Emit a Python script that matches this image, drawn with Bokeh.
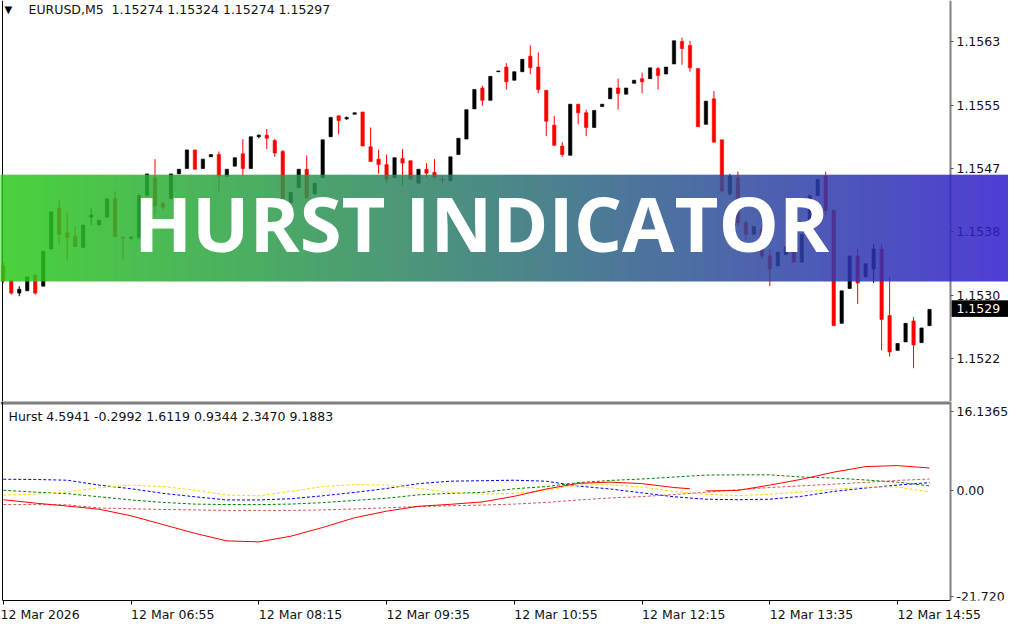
import numpy as np
from bokeh.plotting import figure
from bokeh.models import Range1d, LinearAxis, FixedTicker, Label, Span, ColumnDataSource
from bokeh.layouts import column
from bokeh.embed import file_html
from bokeh.resources import INLINE

# ---------------- data (EURUSD M5, 12 Mar 2026, bars from 05:35) ----------------
opens = [1.15345, 1.15326, 1.15310, 1.15313, 1.15333, 1.15319, 1.15367, 1.15420, 1.15388, 1.15383,
         1.15369, 1.15408, 1.15398, 1.15408, 1.15432, 1.15382, 1.15381, 1.15382, 1.15436, 1.15459,
         1.15426, 1.15432, 1.15464, 1.15471, 1.15495, 1.15471, 1.15486, 1.15489, 1.15461, 1.15474,
         1.15490, 1.15471, 1.15512, 1.15514, 1.15507, 1.15493, 1.15427, 1.15446, 1.15470, 1.15438,
         1.15459, 1.15512, 1.15539, 1.15535, 1.15541, 1.15544, 1.15499, 1.15483, 1.15476, 1.15459,
         1.15484, 1.15481, 1.15452, 1.15470, 1.15466, 1.15457, 1.15455, 1.15489, 1.15509, 1.15548,
         1.15575, 1.15559, 1.15596, 1.15602, 1.15585, 1.15596, 1.15616, 1.15602, 1.15572, 1.15527,
         1.15500, 1.15488, 1.15554, 1.15543, 1.15524, 1.15551, 1.15561, 1.15575, 1.15567, 1.15581,
         1.15587, 1.15587, 1.15600, 1.15593, 1.15606, 1.15635, 1.15630, 1.15600, 1.15528, 1.15561,
         1.15508, 1.15438, 1.15459, 1.15401, 1.15386, 1.15392, 1.15358, 1.15345, 1.15360, 1.15370,
         1.15350, 1.15386, 1.15436, 1.15461, 1.15417, 1.15271, 1.15316, 1.15358, 1.15331, 1.15341,
         1.15367, 1.15281, 1.15236, 1.15247, 1.15274, 1.15246, 1.15268]
highs = [1.15350, 1.15326, 1.15319, 1.15331, 1.15335, 1.15364, 1.15415, 1.15430, 1.15415, 1.15396,
         1.15398, 1.15420, 1.15404, 1.15432, 1.15442, 1.15383, 1.15384, 1.15438, 1.15464, 1.15483,
         1.15428, 1.15464, 1.15470, 1.15495, 1.15495, 1.15483, 1.15489, 1.15493, 1.15470, 1.15485,
         1.15509, 1.15512, 1.15515, 1.15522, 1.15509, 1.15495, 1.15440, 1.15470, 1.15488, 1.15452,
         1.15508, 1.15537, 1.15539, 1.15538, 1.15543, 1.15544, 1.15524, 1.15495, 1.15489, 1.15485,
         1.15496, 1.15481, 1.15470, 1.15478, 1.15483, 1.15461, 1.15486, 1.15510, 1.15547, 1.15573,
         1.15578, 1.15590, 1.15597, 1.15607, 1.15596, 1.15612, 1.15630, 1.15621, 1.15572, 1.15539,
         1.15505, 1.15554, 1.15554, 1.15547, 1.15546, 1.15554, 1.15575, 1.15587, 1.15575, 1.15585,
         1.15595, 1.15601, 1.15602, 1.15602, 1.15636, 1.15640, 1.15636, 1.15600, 1.15558, 1.15571,
         1.15508, 1.15464, 1.15467, 1.15404, 1.15396, 1.15398, 1.15367, 1.15363, 1.15370, 1.15370,
         1.15386, 1.15436, 1.15457, 1.15467, 1.15417, 1.15313, 1.15358, 1.15367, 1.15348, 1.15373,
         1.15373, 1.15331, 1.15245, 1.15271, 1.15279, 1.15265, 1.15289]
lows = [1.15323, 1.15308, 1.15306, 1.15313, 1.15308, 1.15319, 1.15367, 1.15373, 1.15352, 1.15370,
        1.15369, 1.15398, 1.15398, 1.15408, 1.15383, 1.15354, 1.15378, 1.15379, 1.15436, 1.15411,
        1.15418, 1.15432, 1.15464, 1.15471, 1.15470, 1.15471, 1.15486, 1.15440, 1.15461, 1.15474,
        1.15461, 1.15471, 1.15510, 1.15496, 1.15486, 1.15430, 1.15427, 1.15446, 1.15432, 1.15438,
        1.15459, 1.15512, 1.15515, 1.15534, 1.15541, 1.15500, 1.15480, 1.15464, 1.15452, 1.15459,
        1.15449, 1.15457, 1.15452, 1.15459, 1.15457, 1.15452, 1.15455, 1.15489, 1.15509, 1.15548,
        1.15552, 1.15559, 1.15596, 1.15573, 1.15585, 1.15596, 1.15593, 1.15568, 1.15513, 1.15500,
        1.15486, 1.15488, 1.15528, 1.15513, 1.15524, 1.15551, 1.15561, 1.15547, 1.15567, 1.15581,
        1.15568, 1.15587, 1.15573, 1.15593, 1.15606, 1.15605, 1.15596, 1.15525, 1.15528, 1.15505,
        1.15440, 1.15436, 1.15396, 1.15379, 1.15386, 1.15354, 1.15319, 1.15345, 1.15360, 1.15350,
        1.15350, 1.15386, 1.15436, 1.15411, 1.15268, 1.15271, 1.15316, 1.15296, 1.15331, 1.15323,
        1.15236, 1.15228, 1.15236, 1.15247, 1.15213, 1.15246, 1.15268]
closes = [1.15326, 1.15310, 1.15315, 1.15331, 1.15310, 1.15364, 1.15415, 1.15386, 1.15382, 1.15370,
          1.15398, 1.15411, 1.15404, 1.15432, 1.15383, 1.15381, 1.15382, 1.15436, 1.15464, 1.15423,
          1.15421, 1.15464, 1.15470, 1.15495, 1.15470, 1.15483, 1.15489, 1.15461, 1.15470, 1.15485,
          1.15471, 1.15512, 1.15514, 1.15510, 1.15491, 1.15432, 1.15440, 1.15470, 1.15433, 1.15452,
          1.15508, 1.15537, 1.15533, 1.15537, 1.15543, 1.15500, 1.15480, 1.15476, 1.15457, 1.15485,
          1.15478, 1.15457, 1.15470, 1.15465, 1.15460, 1.15456, 1.15486, 1.15510, 1.15547, 1.15573,
          1.15559, 1.15590, 1.15597, 1.15583, 1.15596, 1.15612, 1.15601, 1.15573, 1.15532, 1.15501,
          1.15489, 1.15554, 1.15543, 1.15524, 1.15546, 1.15554, 1.15575, 1.15568, 1.15575, 1.15585,
          1.15583, 1.15601, 1.15591, 1.15602, 1.15636, 1.15626, 1.15601, 1.15525, 1.15558, 1.15505,
          1.15442, 1.15461, 1.15401, 1.15386, 1.15396, 1.15358, 1.15341, 1.15363, 1.15370, 1.15350,
          1.15386, 1.15436, 1.15457, 1.15417, 1.15268, 1.15313, 1.15358, 1.15323, 1.15348, 1.15367,
          1.15276, 1.15234, 1.15245, 1.15271, 1.15243, 1.15265, 1.15289]
bar_index = list(range(len(closes)))

price_ticks = [1.15635, 1.15553, 1.15471, 1.15389, 1.15307, 1.15225]
price_tick_labels = ["1.1563", "1.1555", "1.1547", "1.1538", "1.1530", "1.1522"]
current_price = 1.15290
current_price_label = "1.1529"

time_tick_bars = [0, 16, 32, 48, 64, 80, 96, 112]
time_tick_labels = ["12 Mar 2026", "12 Mar 06:55", "12 Mar 08:15", "12 Mar 09:35",
                    "12 Mar 10:55", "12 Mar 12:15", "12 Mar 13:35", "12 Mar 14:55"]

hurst_bars = list(range(0, 117, 4))
red_bars = [0, 4, 8, 12, 16, 20, 24, 28, 32, 36, 40, 44, 48, 52, 56, 60, 64, 68, 72, 76, 80, 84,
            86, 87, 88, 92, 96, 100, 104, 108, 112, 116]
red_vals = [-1.9, -2.6, -3.2, -3.85, -5.2, -7.0, -8.8, -10.35, -10.55, -9.4, -7.6, -5.6, -4.25,
            -3.25, -2.85, -2.35, -1.2, 0.3, 1.45, 1.7, 1.4, 0.6, 0.35, float("nan"), -0.1, 0.0,
            1.1, 2.3, 3.75, 4.9, 5.1, 4.6]
blue_vals = [2.3, 2.25, 2.1, 1.1, 0.35, -0.6, -1.3, -1.95, -1.95, -1.7, -1.1, -0.4, 0.4, 1.4, 1.9,
             2.0, 2.1, 1.9, 0.9, 0.3, -0.5, -1.3, -1.8, -1.9, -1.8, -1.2, -0.2, 0.5, 1.1, 1.6]
yellow_vals = [-0.95, -0.75, -0.3, 0.55, 1.1, 0.8, 0.05, -0.95, -1.1, -0.2, 0.8, 1.2, 1.1, 0.4, -0.4,
               -0.75, -0.6, 0.1, 1.1, 1.15, 0.7, -0.2, -0.8, -1.05, -0.8, -0.3, 0.2, 0.7, 0.7, -0.3]
green_vals = [0.05, -0.35, -0.65, -1.3, -1.95, -2.45, -2.8, -2.9, -2.9, -2.8, -2.5, -2.05, -1.6, -0.9,
              -0.6, -0.4, 0.35, 0.8, 1.6, 2.05, 2.35, 2.75, 3.15, 3.2, 3.2, 2.75, 2.55, 2.15, 1.7, 0.93]
rosy_vals = [-2.9, -2.9, -2.95, -3.6, -3.75, -3.9, -4.0, -4.1, -4.1, -4.1, -4.0, -3.8, -3.55, -3.3,
             -3.15, -3.0, -2.8, -2.45, -1.95, -1.55, -1.25, -0.85, -0.35, 0.15, 0.6, 0.95, 1.3, 1.65,
             2.05, 2.35]
hurst_ticks = [16.1365, 0.0, -21.72]
hurst_tick_labels = ["16.1365", "0.00", "-21.720"]

header_text = "EURUSD,M5\u00a0 1.15274 1.15324 1.15274 1.15297"
hurst_header = "Hurst 4.5941 -0.2992 1.6119 0.9344 2.3470 9.1883"
banner_text = "HURST INDICATOR"

# ---------------- layout constants ----------------
# the plot area spans the whole canvas; the MT4 price scale sits at bar X_SCALE
W = 1008
X_START, X_END = -0.35, 125.89
X_LEFT = -0.10          # left border of the chart window
X_SCALE = 118.62        # price-scale line
PY0, PY1 = 1.15170, 1.15688
HY0, HY1 = -22.58, 17.65
HY_TOP = 18.25          # 3px separator above the Hurst sub-window
FONT = "DejaVu Sans"
FS = "12.5px"


def style_scale_axis(ax):
    ax.axis_line_color = "#808080"
    ax.axis_line_width = 2
    ax.major_tick_out = 3
    ax.major_tick_in = 0
    ax.minor_tick_out = 0
    ax.minor_tick_in = 0
    ax.major_tick_line_color = "#555555"
    ax.major_label_standoff = 3
    ax.major_label_text_font = FONT
    ax.major_label_text_font_size = FS
    ax.major_label_text_color = "#111111"


def solid_image(rgb_rows, a):
    arr = np.zeros((1, len(rgb_rows), 4), dtype=np.uint8)
    arr[0, :, :3] = np.round(np.asarray(rgb_rows)).astype(np.uint8)
    arr[0, :, 3] = int(round(a * 255))
    return arr.view(dtype=np.uint32).reshape((1, len(rgb_rows)))


# ---------------- upper price panel ----------------
p = figure(width=W, height=401, x_range=Range1d(X_START, X_END), y_range=Range1d(PY0, PY1),
           output_backend="svg", toolbar_location=None, min_border_left=0, min_border_right=0,
           min_border_top=0, min_border_bottom=0, x_axis_location=None, y_axis_location=None)
p.grid.visible = False
p.outline_line_color = None
p.background_fill_color = "white"
p.border_fill_color = "white"

colors = ["#000000" if c >= o else "#ff0000" for o, c in zip(opens, closes)]
tops = [max(o, c) for o, c in zip(opens, closes)]
bots = [min(o, c) for o, c in zip(opens, closes)]
src = ColumnDataSource(dict(x=bar_index, h=highs, l=lows, top=tops, bottom=bots, color=colors))
p.segment(x0="x", y0="h", x1="x", y1="l", line_color="color", line_width=1, source=src)
p.vbar(x="x", width=0.42, top="top", bottom="bottom", fill_color="color", line_color="color",
       line_width=0.6, source=src)

# current price marker: black box on the price scale
BOX_H = 0.000107
p.image_rgba(image=[solid_image([[0, 0, 0]], 1.0)], x=X_SCALE + 0.12, y=current_price - BOX_H,
             dw=X_END - X_SCALE, dh=2 * BOX_H)

yax = LinearAxis(fixed_location=X_SCALE, ticker=FixedTicker(ticks=price_ticks),
                 major_label_overrides={t: s for t, s in zip(price_ticks, price_tick_labels)})
style_scale_axis(yax)
p.add_layout(yax, "right")

cax = LinearAxis(fixed_location=X_SCALE, ticker=FixedTicker(ticks=[current_price]),
                 major_label_overrides={current_price: current_price_label})
cax.axis_line_color = None
cax.major_tick_line_color = None
cax.minor_tick_line_color = None
cax.major_tick_out = 0
cax.major_tick_in = 0
cax.major_label_standoff = 6
cax.major_label_text_font = FONT
cax.major_label_text_font_size = FS
cax.major_label_text_color = "white"
p.add_layout(cax, "right")

p.add_layout(Span(location=X_LEFT, dimension="height", line_color="black", line_width=1))

# header texts
p.add_layout(Label(x=X_LEFT, x_offset=2, y=1.15677, text="\u25bc", text_font=FONT,
                   text_font_size="10px", text_color="black", text_baseline="middle"))
p.add_layout(Label(x=X_LEFT, x_offset=26, y=1.15677, text=header_text, text_font=FONT,
                   text_font_size=FS, text_color="#111111", text_baseline="middle"))

# banner gradient over everything (price scale included)
BAN_TOP, BAN_BOT = 1.15463, 1.15325
left_rgb = np.array([43.0, 202.0, 26.0])
right_rgb = np.array([47.0, 28.0, 204.0])
alpha = 0.85
ncols = 504
t = np.linspace(0.0, 1.0, ncols)
rgb = left_rgb[None, :] * (1 - t[:, None]) + right_rgb[None, :] * t[:, None]
p.image_rgba(image=[solid_image(rgb, alpha)], x=X_START, y=BAN_BOT, dw=X_END - X_START,
             dh=BAN_TOP - BAN_BOT, level="overlay")

p.add_layout(Label(x=59.9, y=1.15401, text=banner_text, text_font="Open Sans",
                   text_font_size="76px", text_font_style="bold", text_color="white",
                   text_align="center", text_baseline="middle", level="overlay"))

# ---------------- lower Hurst panel ----------------
p2 = figure(width=W, height=223, x_range=p.x_range, y_range=Range1d(HY0, HY_TOP),
            output_backend="svg", toolbar_location=None, min_border_left=0, min_border_right=0,
            min_border_top=0, min_border_bottom=0, x_axis_location=None, y_axis_location=None)
p2.grid.visible = False
p2.outline_line_color = None
p2.background_fill_color = "white"
p2.border_fill_color = "white"

# window separator
p2.quad(left=X_START, right=X_SCALE, bottom=HY1, top=HY_TOP + 1, fill_color="#808080",
        line_color=None)

dash = "3 2"
p2.line(hurst_bars, blue_vals, line_color="#0000ff", line_width=1, line_dash=dash)
p2.line(hurst_bars, green_vals, line_color="#008000", line_width=1, line_dash=dash)
p2.line(hurst_bars, yellow_vals, line_color="#ffd700", line_width=1, line_dash=dash)
p2.line(hurst_bars, rosy_vals, line_color="#cd5c5c", line_width=1, line_dash=dash)
p2.line(red_bars, red_vals, line_color="#ff0000", line_width=1)

hax = LinearAxis(fixed_location=X_SCALE, ticker=FixedTicker(ticks=hurst_ticks),
                 major_label_overrides={t: s for t, s in zip(hurst_ticks, hurst_tick_labels)})
style_scale_axis(hax)
p2.add_layout(hax, "right")


# time axis: labels start at their tick (MT4 style) -> pad on the left
def pad_label(i, s):
    if i == 0:
        return s  # pushed against the left edge by the axis itself
    return "\u00a0" * int(round(len(s) * 1.72)) + s


xax = LinearAxis(ticker=FixedTicker(ticks=time_tick_bars), bounds=(X_LEFT, X_SCALE),
                 major_label_overrides={b: pad_label(i, s) for i, (b, s) in
                                        enumerate(zip(time_tick_bars, time_tick_labels))})
xax.axis_line_color = "black"
xax.axis_line_width = 1
xax.major_tick_out = 4
xax.major_tick_in = 0
xax.minor_tick_out = 0
xax.minor_tick_in = 0
xax.major_tick_line_color = "black"
xax.major_label_standoff = 2
xax.major_label_text_font = FONT
xax.major_label_text_font_size = FS
xax.major_label_text_color = "#111111"
p2.add_layout(xax, "below")

p2.add_layout(Span(location=X_LEFT, dimension="height", line_color="black", line_width=1))

p2.add_layout(Label(x=X_LEFT, x_offset=6, y=15.1, text=hurst_header, text_font=FONT,
                    text_font_size=FS, text_color="#111111", text_baseline="middle"))

layout = column(p, p2, spacing=0)
open("out.html", "w").write(file_html(layout, INLINE))
